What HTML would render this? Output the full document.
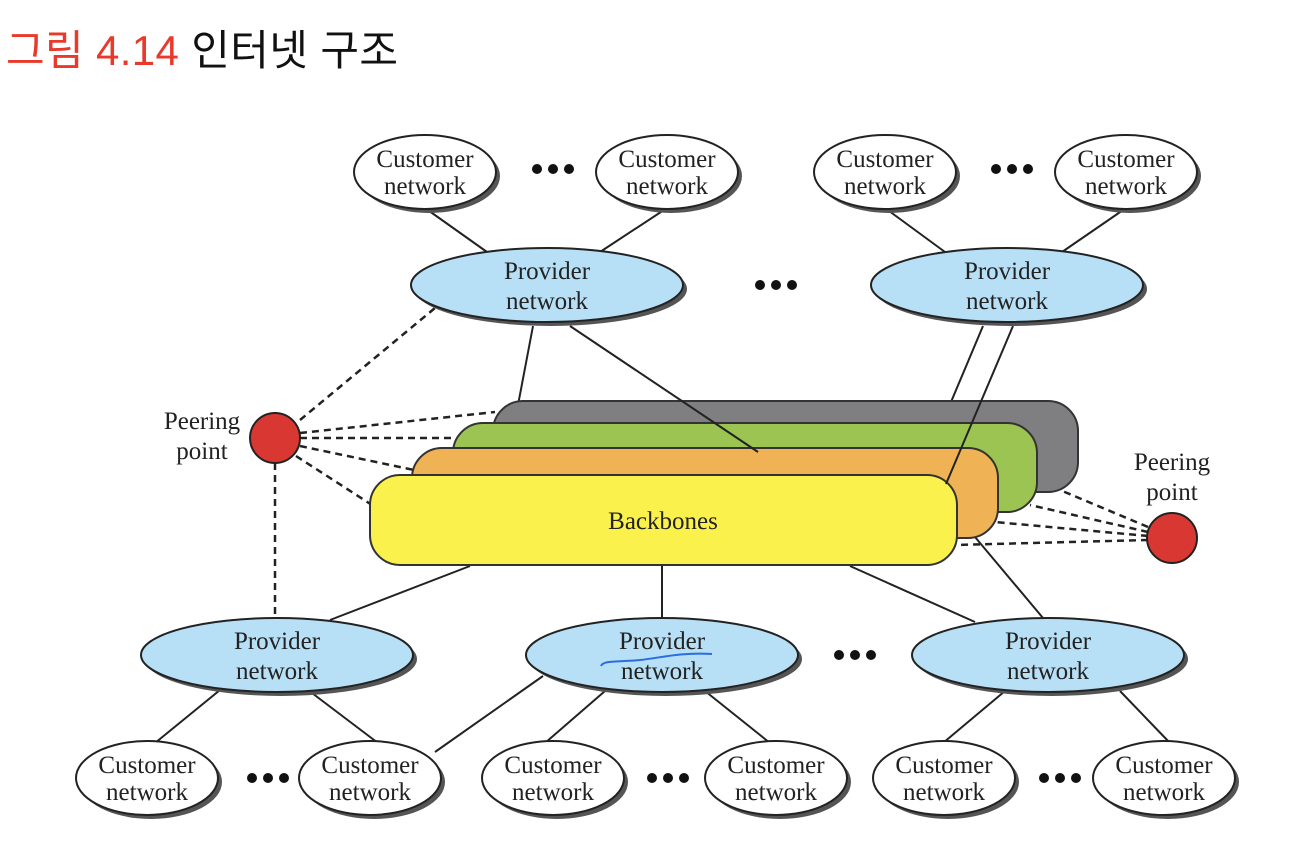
<!DOCTYPE html>
<html><head><meta charset="utf-8"><style>
html,body{margin:0;padding:0;background:#fff;}
svg{display:block}
text{font-family:"Liberation Serif",serif;font-size:25px;fill:#222;}
</style></head><body>
<svg width="1300" height="846" viewBox="0 0 1300 846" xmlns="http://www.w3.org/2000/svg">
<text x="6" y="65" textLength="392" style="font-family:'Liberation Sans','Noto Sans CJK KR',sans-serif;font-size:42px;fill:#e8392a">그림 4.14 <tspan style="fill:#111">인터넷 구조</tspan></text>

<g stroke="#222" stroke-width="2" fill="none">
<line x1="425" y1="208" x2="487" y2="252"/><line x1="667" y1="208" x2="600" y2="252"/>
<line x1="885" y1="208" x2="945" y2="252"/><line x1="1126" y1="208" x2="1062" y2="252"/>
<line x1="533" y1="326" x2="518" y2="405"/>
<line x1="983" y1="326" x2="951" y2="402"/>
<line x1="470" y1="566" x2="330" y2="620"/><line x1="662" y1="566" x2="662" y2="618"/>
<line x1="850" y1="566" x2="975" y2="622"/><line x1="975" y1="537" x2="1043" y2="618"/>
<line x1="220" y1="690" x2="155" y2="743"/><line x1="308" y1="690" x2="378" y2="743"/>
<line x1="543" y1="676" x2="435" y2="752"/>
<line x1="605" y1="691" x2="545" y2="743"/><line x1="705" y1="691" x2="770" y2="743"/>
<line x1="1005" y1="691" x2="943" y2="743"/><line x1="1120" y1="691" x2="1170" y2="743"/>
</g>
<g stroke="#222" stroke-width="2.5" stroke-dasharray="7,5" fill="none">
<line x1="300" y1="420" x2="435" y2="308"/>
<line x1="300" y1="433" x2="495" y2="412"/>
<line x1="300" y1="438" x2="455" y2="438"/>
<line x1="300" y1="446" x2="414" y2="470"/>
<line x1="296" y1="456" x2="372" y2="505"/>
<line x1="275" y1="463" x2="275" y2="617"/>
<line x1="1148" y1="527" x2="1060" y2="490"/>
<line x1="1148" y1="532" x2="1030" y2="505"/>
<line x1="1148" y1="536" x2="995" y2="522"/>
<line x1="1148" y1="540" x2="956" y2="545"/>
</g>

<g stroke="#333" stroke-width="2">
<rect x="493" y="401" width="585" height="91" rx="30" fill="#7f7f82"/>
<rect x="453" y="423" width="584" height="89" rx="30" fill="#9bc453"/>
<rect x="412" y="448" width="586" height="90" rx="30" fill="#efb255"/>
<rect x="370" y="475" width="587" height="90" rx="30" fill="#fbf14c"/>
</g>
<line x1="1013" y1="326" x2="946" y2="484" stroke="#222" stroke-width="2"/>
<line x1="570" y1="326" x2="758" y2="452" stroke="#222" stroke-width="2"/>
<text x="663" y="529" text-anchor="middle">Backbones</text>

<g stroke="#222" stroke-width="2">
<circle cx="275" cy="438" r="25" fill="#d93832"/>
<circle cx="1172" cy="538" r="25" fill="#d93832"/>
</g>
<text x="202" y="429" text-anchor="middle">Peering</text><text x="202" y="459" text-anchor="middle">point</text>
<text x="1172" y="470" text-anchor="middle">Peering</text><text x="1172" y="500" text-anchor="middle">point</text>

<defs>
<g id="cust"><ellipse cx="4" cy="4" rx="71" ry="37" fill="#555"/><ellipse rx="71" ry="37" fill="#fff" stroke="#222" stroke-width="2"/><text y="-5" text-anchor="middle">Customer</text><text y="22" text-anchor="middle">network</text></g>
<g id="prov"><ellipse cx="4" cy="4" rx="136" ry="37" fill="#555"/><ellipse rx="136" ry="37" fill="#b7dff5" stroke="#222" stroke-width="2"/><text y="-6" text-anchor="middle">Provider</text><text y="24" text-anchor="middle">network</text></g>
</defs>
<use href="#cust" x="425" y="172"/><use href="#cust" x="667" y="172"/>
<use href="#cust" x="885" y="172"/><use href="#cust" x="1126" y="172"/>
<use href="#prov" x="547" y="285"/><use href="#prov" x="1007" y="285"/>
<use href="#prov" x="277" y="655"/><use href="#prov" x="662" y="655"/><use href="#prov" x="1048" y="655"/>
<use href="#cust" x="147" y="778"/><use href="#cust" x="370" y="778"/>
<use href="#cust" x="553" y="778"/><use href="#cust" x="776" y="778"/>
<use href="#cust" x="944" y="778"/><use href="#cust" x="1164" y="778"/>

<path d="M601 666 C603 660 620 662 640 660 C660 658 680 652 712 654" stroke="#2a6de0" stroke-width="2" fill="none"/>

<g fill="#111">
<circle cx="537" cy="169" r="5"/><circle cx="553" cy="169" r="5"/><circle cx="569" cy="169" r="5"/>
<circle cx="996" cy="169" r="5"/><circle cx="1012" cy="169" r="5"/><circle cx="1028" cy="169" r="5"/>
<circle cx="760" cy="285" r="5"/><circle cx="776" cy="285" r="5"/><circle cx="792" cy="285" r="5"/>
<circle cx="839" cy="655" r="5"/><circle cx="855" cy="655" r="5"/><circle cx="871" cy="655" r="5"/>
<circle cx="252" cy="778" r="5"/><circle cx="268" cy="778" r="5"/><circle cx="284" cy="778" r="5"/>
<circle cx="652" cy="778" r="5"/><circle cx="668" cy="778" r="5"/><circle cx="684" cy="778" r="5"/>
<circle cx="1044" cy="778" r="5"/><circle cx="1060" cy="778" r="5"/><circle cx="1076" cy="778" r="5"/>
</g>
</svg>
</body></html>
